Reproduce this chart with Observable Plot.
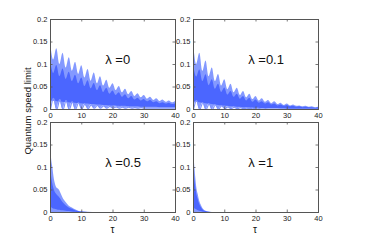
<!DOCTYPE html>
<html>
<head>
<meta charset="utf-8">
<script src="https://cdn.jsdelivr.net/npm/d3@7"></script>
<script src="https://cdn.jsdelivr.net/npm/@observablehq/plot@0.6"></script>
<style>
  html, body { margin: 0; padding: 0; background: #fff; }
  #wrap { position: relative; width: 386px; height: 248px; overflow: hidden; font-family: "Liberation Sans", Arial, sans-serif; }
  .pan { position: absolute; }
  .pan svg { overflow: visible; }
  .lbl { position: absolute; color: #111; white-space: nowrap; }
</style>
</head>
<body>
<div id="wrap"></div>
<script>
// ---- data ----
const xTicks = [0, 10, 20, 30, 40];
const yTicks = [0, 0.05, 0.1, 0.15, 0.2];
const panelLabels = ["λ =0", "λ =0.1", "λ =0.5", "λ =1"];
const yTitle = "Quantum speed limit";
const xTitle = "τ";

const tau = [0,1,2,3,4,5,6,7,8,9,10,11,12,13,14,15,16,17,18,19,20,21,22,23,24,25,26,27,28,29,30,31,32,33,34,35,36,37,38,39,40];
const tauFast = [0,0.25,0.5,0.75,1,1.5,2,2.5,3,3.5,4,5,6,7,8,9,10,12,15,40];

// lambda = 0
const outerHi0 = [0.15,0.11,0.135,0.10,0.125,0.092,0.115,0.085,0.105,0.078,0.097,0.07,0.089,0.063,0.081,0.057,0.073,0.052,0.065,0.047,0.057,0.042,0.051,0.037,0.045,0.033,0.04,0.029,0.035,0.026,0.031,0.023,0.027,0.02,0.024,0.018,0.021,0.016,0.019,0.015,0.018];
const outerLo0 = [0,0.025,0,0.022,0,0.02,0,0.017,0,0.015,0.001,0.012,0.002,0.01,0.003,0.009,0.003,0.008,0.003,0.007,0.003,0.006,0.003,0.005,0.003,0.005,0.003,0.004,0.003,0.004,0.003,0.003,0.003,0.003,0.003,0.003,0.003,0.003,0.003,0.003,0.003];
const innerHi0 = [0.11,0.08,0.098,0.073,0.09,0.067,0.083,0.062,0.076,0.057,0.07,0.051,0.064,0.046,0.058,0.042,0.053,0.038,0.047,0.034,0.041,0.031,0.037,0.027,0.033,0.024,0.029,0.021,0.025,0.019,0.022,0.017,0.02,0.015,0.017,0.013,0.015,0.012,0.014,0.011,0.013];
const innerLo0 = [0.02,0.018,0.018,0.016,0.016,0.015,0.015,0.014,0.014,0.013,0.013,0.012,0.012,0.011,0.011,0.01,0.01,0.009,0.009,0.008,0.008,0.008,0.007,0.007,0.007,0.006,0.006,0.006,0.006,0.005,0.005,0.005,0.005,0.005,0.005,0.004,0.004,0.004,0.004,0.004,0.004];

// lambda = 0.1
const outerHi1 = [0.15,0.1,0.125,0.085,0.108,0.073,0.092,0.062,0.078,0.052,0.066,0.044,0.056,0.037,0.047,0.031,0.04,0.026,0.034,0.022,0.029,0.019,0.024,0.016,0.02,0.013,0.017,0.011,0.014,0.009,0.012,0.008,0.01,0.007,0.008,0.006,0.007,0.005,0.006,0.004,0.005];
const outerLo1 = [0,0.02,0,0.015,0,0.012,0,0.01,0.001,0.008,0.002,0.006,0.002,0.005,0.002,0.004,0.002,0.003,0.002,0.003,0.001,0.002,0.001,0.002,0.001,0.001,0.001,0.001,0.001,0.001,0,0,0,0,0,0,0,0,0,0,0];
const innerHi1 = [0.1,0.072,0.088,0.062,0.077,0.053,0.066,0.045,0.056,0.038,0.048,0.032,0.04,0.027,0.034,0.023,0.029,0.019,0.025,0.016,0.021,0.014,0.017,0.012,0.015,0.01,0.012,0.008,0.01,0.007,0.009,0.006,0.007,0.005,0.006,0.004,0.005,0.004,0.004,0.003,0.004];
const innerLo1 = [0.018,0.016,0.015,0.014,0.013,0.012,0.011,0.01,0.009,0.008,0.008,0.007,0.006,0.006,0.005,0.005,0.004,0.004,0.004,0.003,0.003,0.003,0.002,0.002,0.002,0.002,0.002,0.002,0.001,0.001,0.001,0.001,0.001,0.001,0.001,0.001,0.001,0.001,0.001,0.001,0.001];

// lambda = 0.5
const outerHi5 = [0.14,0.125,0.11,0.1,0.085,0.065,0.055,0.052,0.048,0.04,0.032,0.022,0.014,0.01,0.006,0.003,0.0015,0.0005,0,0];
const outerLo5 = [0,0,0,0,0,0,0,0,0,0,0,0,0,0,0,0,0,0,0,0];
const innerHi5 = [0.1,0.085,0.072,0.062,0.055,0.045,0.04,0.036,0.032,0.027,0.022,0.015,0.01,0.007,0.004,0.002,0.001,0,0,0];
const innerLo5 = [0.012,0.011,0.01,0.009,0.008,0.007,0.006,0.005,0.005,0.004,0.004,0.003,0.002,0.001,0.0005,0,0,0,0,0];

// lambda = 1
const outerHi10 = [0.17,0.12,0.095,0.075,0.058,0.04,0.025,0.016,0.009,0.005,0.003,0.001,0,0,0,0,0,0,0,0];
const outerLo10 = [0,0,0,0,0,0,0,0,0,0,0,0,0,0,0,0,0,0,0,0];
const innerHi10 = [0.115,0.088,0.068,0.054,0.042,0.029,0.018,0.011,0.006,0.003,0.002,0.0005,0,0,0,0,0,0,0,0];
const innerLo10 = [0.012,0.01,0.008,0.007,0.006,0.004,0.003,0.002,0.001,0.0005,0,0,0,0,0,0,0,0,0,0];

const labelAt = {x: 17.5, y: 0.11};

// ---- layout ----
const PW = 125, PH = 90, ML = 30, MT = 8, MR = 8, MB = 14;
const panels = [
  {left: 50,  top: 19,  t: tau,     oh: outerHi0,  ol: outerLo0,  ih: innerHi0,  il: innerLo0,  label: panelLabels[0], curve: "catmull-rom"},
  {left: 193, top: 19,  t: tau,     oh: outerHi1,  ol: outerLo1,  ih: innerHi1,  il: innerLo1,  label: panelLabels[1], curve: "catmull-rom"},
  {left: 50,  top: 122, t: tauFast, oh: outerHi5,  ol: outerLo5,  ih: innerHi5,  il: innerLo5,  label: panelLabels[2], curve: "monotone-x"},
  {left: 193, top: 122, t: tauFast, oh: outerHi10, ol: outerLo10, ih: innerHi10, il: innerLo10, label: panelLabels[3], curve: "monotone-x"}
];

const wrap = document.getElementById("wrap");
const fmt = d => String(d);
const tickY = 0.2 * 2.5 / PH;   // tick length in y units
const tickX = 40 * 2.5 / PW;    // tick length in x units

for (const p of panels) {
  const rows = p.t.map((t, i) => ({t, oh: p.oh[i], ol: p.ol[i], ih: p.ih[i], il: p.il[i]}));
  const plot = Plot.plot({
    width: ML + PW + MR,
    height: MT + PH + MB,
    marginLeft: ML, marginRight: MR, marginTop: MT, marginBottom: MB,
    style: {fontFamily: "'Liberation Sans', Arial, sans-serif", fontSize: "7.5px", color: "#222", background: "transparent", overflow: "visible"},
    x: {domain: [0, 40], axis: null},
    y: {domain: [0, 0.2], axis: null},
    marks: [
      Plot.areaY(rows, {x: "t", y1: "ol", y2: "oh", fill: "#6f87ff", fillOpacity: 0.85, curve: p.curve, clip: true}),
      Plot.areaY(rows, {x: "t", y1: "il", y2: "ih", fill: "#2445ff", fillOpacity: 0.6, curve: p.curve, clip: true}),
      Plot.lineY(rows, {x: "t", y: "ol", stroke: "#7d92ff", strokeWidth: 1.2, curve: p.curve, clip: true}),
      Plot.text([p.label], {x: () => labelAt.x, y: () => labelAt.y, textAnchor: "start", fontSize: 13, fill: "#111"}),
      // inward ticks on all four sides
      Plot.ruleX(xTicks.slice(1, -1), {x: d => d, y1: 0, y2: tickY, stroke: "#555", strokeWidth: 0.8}),
      Plot.ruleX(xTicks.slice(1, -1), {x: d => d, y1: 0.2 - tickY, y2: 0.2, stroke: "#555", strokeWidth: 0.8}),
      Plot.ruleY(yTicks.slice(1, -1), {y: d => d, x1: 0, x2: tickX, stroke: "#555", strokeWidth: 0.8}),
      Plot.ruleY(yTicks.slice(1, -1), {y: d => d, x1: 40 - tickX, x2: 40, stroke: "#555", strokeWidth: 0.8}),
      Plot.frame({stroke: "#555", strokeWidth: 1}),
      Plot.axisX(xTicks, {tickSize: 0, tickPadding: 3, tickFormat: fmt, label: null}),
      Plot.axisY(yTicks, {tickSize: 0, tickPadding: 3, tickFormat: fmt, label: null})
    ]
  });
  const div = document.createElement("div");
  div.className = "pan";
  div.style.left = (p.left - ML) + "px";
  div.style.top = (p.top - MT) + "px";
  div.appendChild(plot);
  wrap.appendChild(div);
}

// axis titles
const yl = document.createElement("div");
yl.className = "lbl";
yl.textContent = yTitle;
yl.style.fontSize = "9.5px";
yl.style.left = "27px";
yl.style.top = "111px";
yl.style.transform = "translate(-50%, -50%) rotate(-90deg)";
wrap.appendChild(yl);

for (const cx of [112.5, 255]) {
  const xl = document.createElement("div");
  xl.className = "lbl";
  xl.textContent = xTitle;
  xl.style.fontSize = "10px";
  xl.style.left = cx + "px";
  xl.style.top = "229px";
  xl.style.transform = "translate(-50%, -50%)";
  wrap.appendChild(xl);
}
</script>
</body>
</html>
